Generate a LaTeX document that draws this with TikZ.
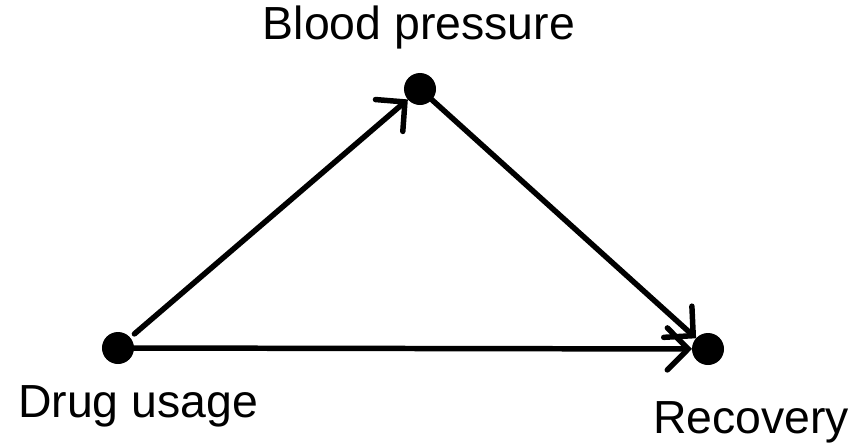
\documentclass[tikz,border=0pt]{standalone}
\usepackage{fontspec}
\setmainfont{Liberation Sans}
\usetikzlibrary{arrows.meta}

\begin{document}
\begin{tikzpicture}[
      x=0.025cm,
      y=-0.025cm,
      font=\fontsize{33}{40}\selectfont,
      dot/.style={circle, fill=black, minimum size=0.8cm, inner sep=0pt, outer sep=0pt},
      caption/.style={anchor=base, inner sep=0pt},
      link/.style={-{Straight Barb[length=0.52cm, width=1.05cm, line cap=round]}, line width=3.9pt, line cap=round}
  ]
    \useasboundingbox (0,0) rectangle (857,442);
    \node[dot] (drug) at (118,348) {};
    \node[dot] (bp) at (420,89) {};
    \node[dot] (rec) at (708,349) {};
    \node[caption] (druglabel) at (138,417) {Drug usage};
    \node[caption] (bplabel) at (419,39) {Blood pressure};
    \node[caption] (reclabel) at (751,433) {Recovery};
    \draw[link, shorten <=4pt] (drug) -- (bp);
    \draw[link] (bp) -- (rec);
    \draw[link] (drug) -- (rec);
  \end{tikzpicture}
\end{document}
